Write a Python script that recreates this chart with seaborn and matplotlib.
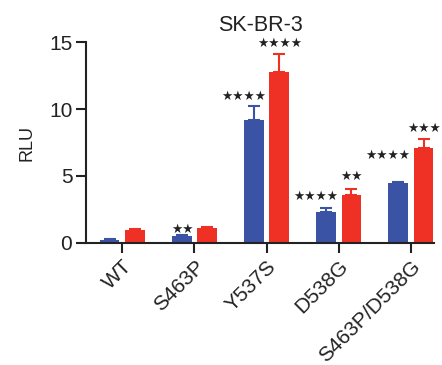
import numpy as np
import pandas as pd
import seaborn as sns
import matplotlib.pyplot as plt

# values (RLU, mean and upper SD)
mutants = ['WT', 'S463P', 'Y537S', 'D538G', 'S463P/D538G']
series = ['blue', 'red']
blue_mean = [0.2, 0.5, 9.2, 2.3, 4.45]
blue_sd = [0.05, 0.1, 1.0, 0.3, 0.1]
red_mean = [0.95, 1.1, 12.8, 3.55, 7.1]
red_sd = [0.1, 0.1, 1.3, 0.5, 0.7]
blue_stars = [0, 2, 4, 4, 4]
red_stars = [0, 0, 4, 2, 3]
blue_star_y = [0, 1.1, 11.0, 3.55, 6.6]
red_star_y = [0, 0, 15.0, 5.05, 8.6]

colors = ['#3A53A4', '#EE3124']

df = pd.DataFrame({
    'mutant': mutants * 2,
    'group': [series[0]] * 5 + [series[1]] * 5,
    'RLU': blue_mean + red_mean,
})

sns.set_style('ticks')
plt.rcParams['font.family'] = ['Liberation Sans', 'DejaVu Sans']

fig = plt.figure(figsize=(4.42, 3.65), dpi=100)
ax = fig.add_axes([0.195, 0.335, 0.787, 0.549])

sns.barplot(data=df, x='mutant', y='RLU', hue='group', order=mutants,
            hue_order=series, palette=colors, saturation=1, width=0.7, gap=0.22,
            errorbar=None, legend=False, linewidth=0, ax=ax)

# bars come out hue by hue
patches = ax.patches[:10]
sds = [blue_sd, red_sd]
stars = [blue_stars, red_stars]
star_y = [blue_star_y, red_star_y]
for h in range(2):
    for i in range(5):
        p = patches[h * 5 + i]
        xc = p.get_x() + p.get_width() / 2
        top = p.get_height()
        ax.errorbar(xc, top, yerr=[[0], [sds[h][i]]], color=colors[h],
                    capsize=4, elinewidth=1.5, capthick=1.5, zorder=1)
        n = stars[h][i]
        if n:
            label = '\u2605' * n
            if h == 0:
                ax.text(p.get_x() + p.get_width() + 0.03, star_y[h][i] - 0.33, label,
                        ha='right', va='baseline', fontsize=9, color='#222222',
                        family='DejaVu Sans')
            else:
                ax.text(xc, star_y[h][i] - 0.33, label,
                        ha='center', va='baseline', fontsize=9, color='#222222',
                        family='DejaVu Sans')

ax.set_xlim(-0.5, 4.32)
ax.set_ylim(0, 15)
ax.set_yticks([0, 5, 10, 15])
ax.set_xlabel('')
ax.set_ylabel('RLU', fontsize=13, color='#222222', labelpad=10)
ax.set_title('SK-BR-3', fontsize=15.5, color='#222222', pad=8.5)
ax.tick_params(axis='both', labelsize=15, length=7, width=1.5, colors='#222222', pad=3)
plt.setp(ax.get_xticklabels(), rotation=45, ha='right', rotation_mode='anchor')
sns.despine(ax=ax)
for s in ['left', 'bottom']:
    ax.spines[s].set_linewidth(1.5)
    ax.spines[s].set_color('#222222')
    ax.spines[s].set_clip_on(False)

fig.savefig('out.png', dpi=100)
